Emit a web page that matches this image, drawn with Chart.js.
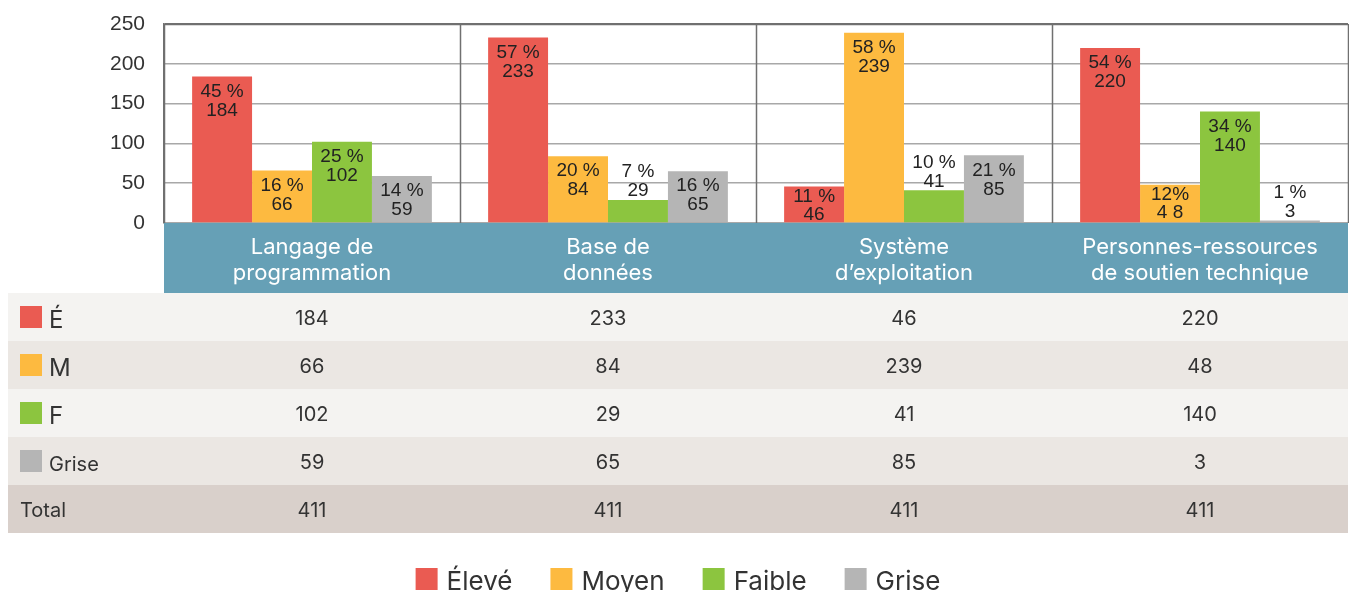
<!DOCTYPE html>
<html><head><meta charset="utf-8">
<script src="https://cdn.jsdelivr.net/npm/chart.js@4.4.1/dist/chart.umd.min.js"></script>
<style>html,body{margin:0;padding:0;background:#fff}#wrap{width:1349px;height:592px;position:relative}</style>
</head><body><div id="wrap"><canvas id="c" width="1349" height="592"></canvas></div>
<script>
const categories = [["Langage de","programmation"],["Base de","données"],["Système","d’exploitation"],["Personnes-ressources","de soutien technique"]];
const seriesNames = ["Élevé","Moyen","Faible","Grise"];
const rowLabels = ["É","M","F","Grise"];
const totalLabel = "Total";
const eleve = [184,233,46,220];
const moyen = [66,84,239,48];
const faible = [102,29,41,140];
const grise = [59,65,85,3];
const pctEleve = ["45 %","57 %","11 %","54 %"];
const pctMoyen = ["16 %","20 %","58 %","12%"];
const pctFaible = ["25 %","7 %","10 %","34 %"];
const pctGrise = ["14 %","16 %","21 %","1 %"];
const barTextMoyen = ["66","84","239","4 8"];
const yTicks = [0,50,100,150,200,250];

const colors = ["#ea5b52","#fdba40","#8cc53f","#b5b5b5"];
const seriesValues = [eleve, moyen, faible, grise];
const seriesPct = [pctEleve, pctMoyen, pctFaible, pctGrise];
const seriesBarText = [eleve.map(String), barTextMoyen, faible.map(String), grise.map(String)];

const BAND_H = 70, ROW_H = 48;
const LINE = "#707070";

const overlay = {
  id: 'overlay',
  beforeDatasetsDraw(chart) {
    const {ctx, chartArea: a, scales: {x}} = chart;
    ctx.save();
    ctx.strokeStyle = LINE; ctx.lineWidth = 1.5;
    const n = categories.length;
    ctx.beginPath();
    for (let i = 0; i <= n; i++) {
      let px;
      if (i === 0) px = a.left; else if (i === n) px = a.right;
      else px = (x.getPixelForValue(i - 1) + x.getPixelForValue(i)) / 2;
      px = Math.round(px) + 0.5;
      ctx.moveTo(px, a.top); ctx.lineTo(px, a.bottom);
    }
    ctx.moveTo(a.left, a.top + 0.5); ctx.lineTo(a.right, a.top + 0.5);
    ctx.stroke();
    ctx.restore();
  },
  afterDatasetsDraw(chart) {
    const {ctx} = chart;
    ctx.save();
    ctx.font = '19px "Liberation Sans", Arial, sans-serif';
    ctx.fillStyle = '#222';
    ctx.textAlign = 'center';
    ctx.textBaseline = 'middle';
    chart.data.datasets.forEach((ds, di) => {
      const meta = chart.getDatasetMeta(di);
      meta.data.forEach((bar, i) => {
        const h = bar.base - bar.y;
        let y1, y2;
        if (h < 34) { y2 = bar.y - 9; y1 = bar.y - 28; }
        else if (h < 40) { y1 = bar.y + 10; y2 = bar.y + 28; }
        else { y1 = bar.y + 15; y2 = bar.y + 34; }
        ctx.fillText(seriesPct[di][i], bar.x, y1);
        ctx.fillText(seriesBarText[di][i], bar.x, y2);
      });
    });
    ctx.restore();
  },
  afterDraw(chart) {
    const {ctx, chartArea: a, scales: {x}} = chart;
    ctx.save();
    // category band
    ctx.fillStyle = '#66a0b6';
    ctx.fillRect(a.left, a.bottom, a.right - a.left, BAND_H);
    ctx.fillStyle = '#fff';
    ctx.textAlign = 'center';
    ctx.textBaseline = 'alphabetic';
    ctx.font = '22px Inter, sans-serif';
    categories.forEach((lines, i) => {
      const cx = x.getPixelForValue(i);
      ctx.fillText(lines[0], cx, a.bottom + 31);
      ctx.fillText(lines[1], cx, a.bottom + 57);
    });
    // table
    const tLeft = 8, tRight = a.right;
    const top0 = a.bottom + BAND_H;
    const rowBg = ['#f4f3f1', '#ebe7e3', '#f4f3f1', '#ebe7e3'];
    for (let r = 0; r < 4; r++) {
      const ry = top0 + r * ROW_H;
      ctx.fillStyle = rowBg[r];
      ctx.fillRect(tLeft, ry, tRight - tLeft, ROW_H);
      ctx.fillStyle = colors[r];
      ctx.fillRect(20, ry + 13, 22, 22);
      ctx.fillStyle = '#333';
      ctx.textAlign = 'left';
      if (r < 3) { ctx.font = '24px Inter, sans-serif'; ctx.fillText(rowLabels[r], 49, ry + ROW_H / 2 + 11); }
      else { ctx.font = '20px Inter, sans-serif'; ctx.fillText(rowLabels[r], 49, ry + ROW_H / 2 + 10); }
      ctx.textAlign = 'center';
      ctx.font = '20px Inter, sans-serif';
      seriesValues[r].forEach((v, i) => {
        ctx.fillText(String(v), x.getPixelForValue(i), ry + ROW_H / 2 + 8);
      });
    }
    const ty = top0 + 4 * ROW_H;
    ctx.fillStyle = '#d9d0cb';
    ctx.fillRect(tLeft, ty, tRight - tLeft, ROW_H);
    ctx.fillStyle = '#333';
    ctx.textAlign = 'left';
    ctx.font = '20px Inter, sans-serif';
    ctx.fillText(totalLabel, 20, ty + ROW_H / 2 + 8);
    ctx.textAlign = 'center';
    categories.forEach((c, i) => {
      const tot = seriesValues.reduce((s, arr) => s + arr[i], 0);
      ctx.fillText(String(tot), x.getPixelForValue(i), ty + ROW_H / 2 + 8);
    });
    // legend
    ctx.font = '26px Inter, sans-serif';
    const box = 22, gapText = 9, gapItem = 38;
    const widths = seriesNames.map(s => ctx.measureText(s).width);
    let total = 0;
    widths.forEach((w, i) => { total += box + gapText + w + (i < widths.length - 1 ? gapItem : 0); });
    let lx = 678 - total / 2;
    const baseY = 590;
    ctx.textAlign = 'left';
    seriesNames.forEach((s, i) => {
      ctx.fillStyle = colors[i];
      ctx.fillRect(lx, 568, box, box);
      ctx.fillStyle = '#333';
      ctx.fillText(s, lx + box + gapText, baseY);
      lx += box + gapText + widths[i] + gapItem;
    });
    ctx.restore();
  }
};

new Chart(document.getElementById('c'), {
  type: 'bar',
  data: {
    labels: categories.map(c => c.join(' ')),
    datasets: seriesNames.map((name, i) => ({
      label: name,
      data: seriesValues[i],
      backgroundColor: colors[i],
      borderWidth: 0,
      barPercentage: 1,
      categoryPercentage: 0.81
    }))
  },
  options: {
    responsive: false,
    animation: false,
    devicePixelRatio: 1,
    layout: { padding: { top: 24, right: 1, bottom: 369, left: 0 } },
    plugins: { legend: { display: false }, tooltip: { enabled: false } },
    scales: {
      x: { display: false },
      y: {
        min: 0, max: 250,
        afterFit(scale) { scale.width = 164; },
        afterBuildTicks(scale) { scale.ticks = yTicks.map(v => ({ value: v })); },
        ticks: { color: '#333', font: { family: '"Liberation Sans", Arial, sans-serif', size: 21 }, padding: 0 },
        grid: { drawTicks: true, tickLength: 19, tickColor: 'rgba(0,0,0,0)', color: ctx => ctx.tick && ctx.tick.value === 250 ? LINE : '#a8a8a8', lineWidth: 1.5 },
        border: { display: true, color: LINE, width: 1.5 }
      }
    }
  },
  plugins: [overlay]
});
</script>
</body></html>
